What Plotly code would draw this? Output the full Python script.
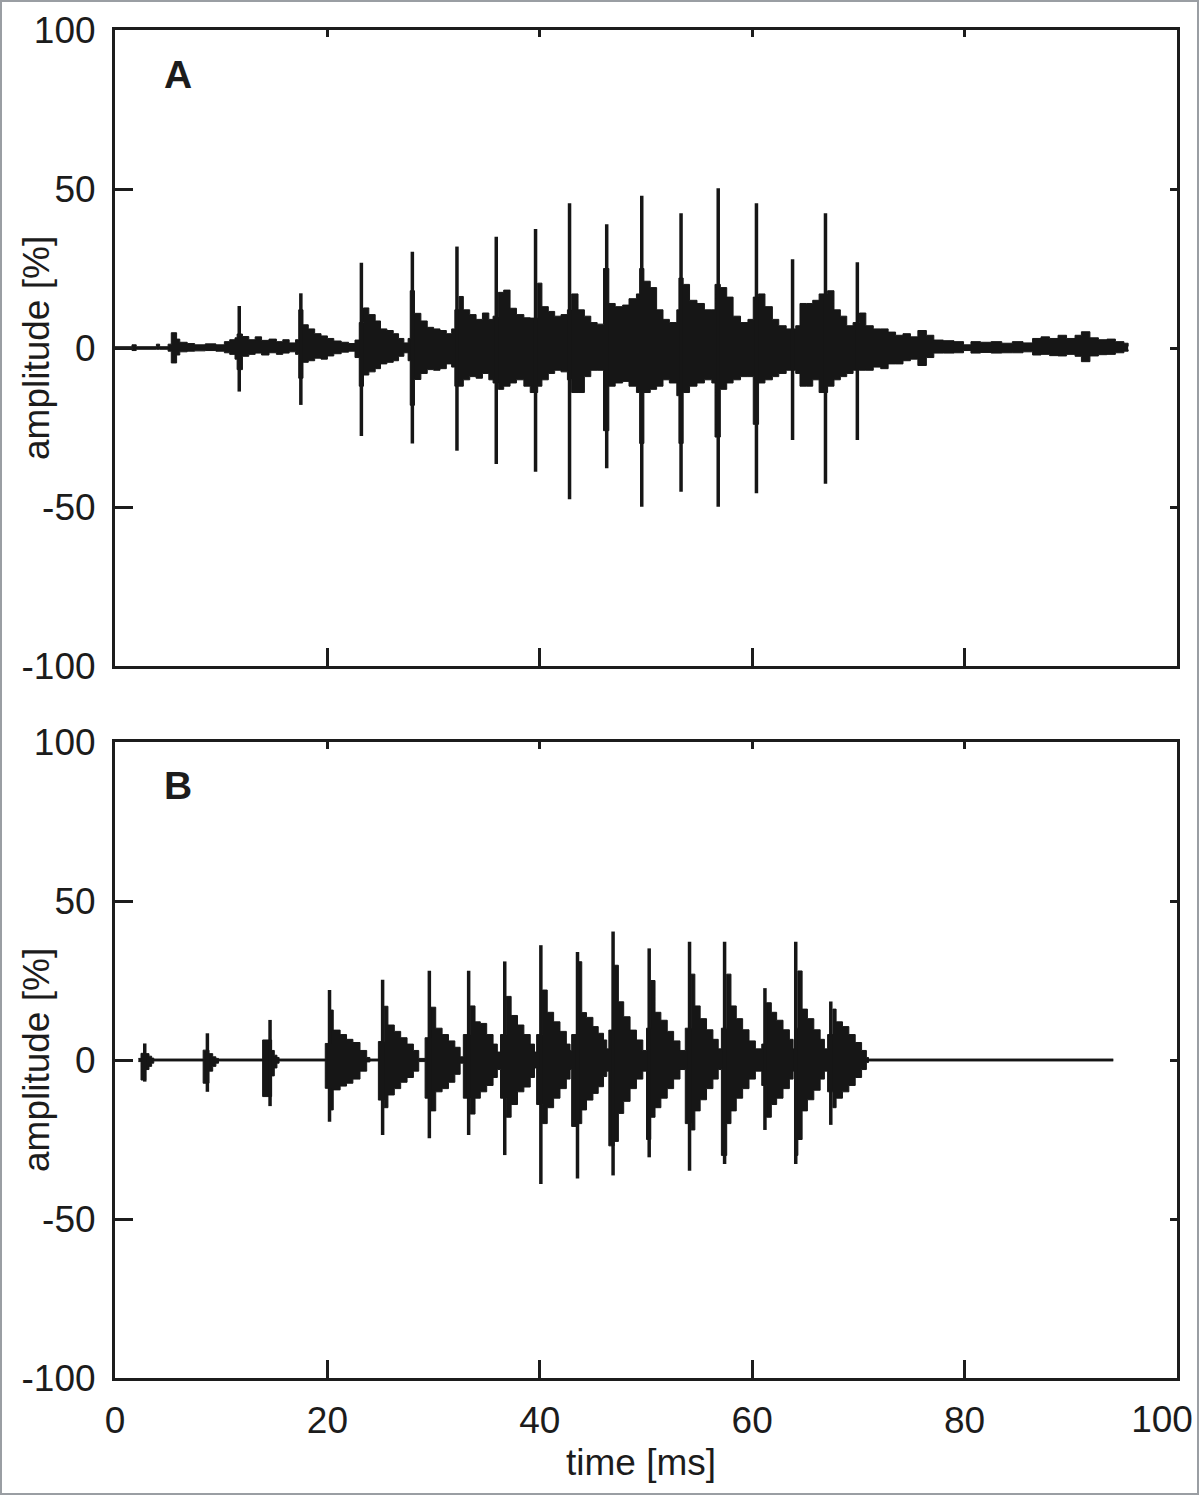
import plotly.graph_objects as go

# ---------------- data ----------------
X_TICKS = [0, 20, 40, 60, 80, 100]
X_TICK_TEXT = ["0", "20", "40", "60", "80", "100"]
Y_TICKS = [-100, -50, 0, 50, 100]
Y_TICK_TEXT = ["-100", "-50", "0", "50", "100"]

# Panel A: envelope of the recorded signal (step-held from each time)
A_env_t = [0.0, 1.6, 2.0, 3.9, 4.2, 5.0, 5.3, 5.8, 6.1, 6.8,
           7.5, 8.5, 9.5, 10.3, 10.8, 11.3, 11.5, 12.0, 12.6, 13.2,
           13.8, 14.5, 15.2, 15.8, 16.4, 17.0, 17.3, 17.7, 18.2, 18.8,
           19.4, 20.0, 20.6, 21.3, 22.0, 22.6, 23.0, 23.4, 23.9, 24.5,
           25.0, 25.6, 26.2, 26.7, 27.2, 27.6, 27.8, 28.2, 28.8, 29.4,
           30.0, 30.6, 31.2, 31.7, 32.0, 32.4, 32.8, 33.4, 34.0, 34.6,
           35.2, 35.6, 36.1, 36.6, 37.2, 37.8, 38.5, 39.1, 39.8, 40.2,
           40.8, 41.4, 42.0, 42.6, 43.0, 43.6, 44.2, 44.8, 45.4, 46.0,
           46.5, 47.1, 47.8, 48.4, 49.1, 49.4, 49.8, 50.4, 51.0, 51.6,
           52.2, 52.9, 53.1, 53.5, 54.1, 54.8, 55.5, 56.2, 56.5, 57.0,
           57.6, 58.2, 58.9, 59.6, 60.1, 60.6, 61.2, 61.9, 62.5, 63.2,
           64.1, 64.5, 65.1, 65.7, 66.3, 67.1, 67.7, 68.3, 68.9, 69.5,
           70.1, 70.7, 71.4, 72.1, 72.8, 73.5, 74.2, 74.9, 75.6, 76.4,
           77.1, 78.0, 79.0, 79.9, 80.6, 81.5, 82.5, 83.5, 84.5, 85.5,
           86.4, 87.2, 88.0, 88.8, 89.6, 90.4, 91.0, 91.8, 92.6, 93.4,
           94.2, 95.0, 95.4]
A_env_hi = [0.4, 1.0, 0.4, 1.2, 0.4, 1.2, 4.8, 2.8, 1.8, 1.4,
            1.0, 1.3, 1.0, 2.0, 2.6, 3.2, 4.4, 3.6, 2.6, 3.5,
            2.4, 2.8, 2.0, 2.6, 1.6, 2.6, 12.0, 7.3, 6.0, 4.5,
            3.8, 3.0, 2.2, 1.8, 1.4, 2.5, 8.0, 12.6, 10.5, 8.5,
            6.0, 5.5, 4.5, 3.0, 1.6, 3.0, 18.0, 10.9, 8.5, 6.5,
            6.0, 5.5, 4.5, 6.0, 12.0, 16.2, 12.0, 10.5, 9.0, 11.0,
            9.0, 10.0, 17.5, 18.2, 12.5, 10.5, 9.5, 9.4, 20.4, 13.0,
            11.5, 10.0, 10.5, 12.0, 17.0, 12.0, 10.0, 8.0, 7.5, 25.0,
            14.0, 13.0, 13.5, 15.5, 17.0, 25.0, 21.0, 19.0, 12.0, 9.0,
            8.0, 12.0, 22.0, 20.0, 15.0, 14.0, 12.0, 12.0, 20.0, 19.0,
            16.0, 10.0, 8.0, 9.0, 16.0, 17.0, 13.0, 9.0, 7.0, 6.0,
            7.0, 14.0, 14.0, 15.0, 17.0, 18.0, 12.0, 10.0, 7.0, 8.0,
            11.0, 7.0, 6.0, 6.0, 5.0, 4.0, 4.5, 3.5, 5.5, 4.0,
            2.5, 2.3, 2.0, 1.0, 2.0, 1.8, 2.0, 1.5, 2.0, 1.6,
            3.0, 3.5, 3.0, 4.0, 3.0, 4.0, 5.1, 3.2, 2.6, 2.8,
            2.0, 1.5, 0.5]
A_env_lo = [-0.4, -0.8, -0.4, -0.4, -0.4, -1.0, -4.7, -2.2, -1.2, -1.0,
            -0.9, -0.8, -1.0, -1.5, -2.0, -3.5, -6.8, -2.6, -2.0, -1.6,
            -2.2, -1.5, -2.0, -1.6, -1.2, -2.0, -9.5, -4.5, -4.0, -3.2,
            -3.5, -2.5, -1.8, -1.3, -1.0, -3.0, -12.0, -8.5, -7.5, -6.5,
            -5.0, -4.5, -4.0, -2.6, -1.5, -4.0, -18.0, -9.9, -8.0, -6.8,
            -7.0, -6.5, -5.0, -6.0, -12.0, -12.0, -10.0, -9.0, -9.5, -8.0,
            -10.0, -11.0, -13.0, -12.0, -11.0, -10.0, -12.0, -14.0, -12.0, -10.0,
            -8.0, -7.0, -7.5, -10.0, -14.0, -14.0, -9.0, -7.0, -7.0, -26.0,
            -12.0, -11.0, -10.5, -12.0, -14.0, -30.0, -14.0, -13.0, -12.0, -10.0,
            -11.0, -15.0, -30.0, -14.0, -12.0, -11.0, -10.0, -11.0, -28.0, -13.0,
            -11.0, -10.0, -9.0, -9.0, -24.0, -11.0, -10.0, -9.0, -8.0, -7.0,
            -8.0, -12.0, -12.0, -10.0, -14.0, -12.0, -10.0, -9.0, -8.0, -7.0,
            -7.0, -7.0, -6.0, -6.5, -5.0, -5.0, -4.0, -3.5, -5.5, -3.0,
            -1.6, -1.6, -1.5, -0.8, -1.6, -1.4, -1.6, -1.5, -1.5, -1.2,
            -2.2, -2.0, -2.4, -2.5, -2.0, -2.6, -4.3, -2.5, -2.1, -2.0,
            -1.5, -1.0, -0.5]

# Panel A: individual pulse spikes
A_spk_t = [11.7, 17.5, 23.2, 28.0, 32.2, 35.9, 39.6, 42.8, 46.3, 49.6,
           53.3, 56.8, 60.4, 63.8, 66.9, 69.9]
A_spk_hi = [13.2, 17.2, 26.8, 30.3, 31.9, 35.0, 37.4, 45.5, 38.9, 47.9,
            42.4, 50.2, 45.5, 27.9, 42.4, 27.0]
A_spk_lo = [-13.7, -17.9, -27.7, -30.0, -32.3, -36.5, -38.9, -47.6, -37.8, -49.9,
            -45.2, -49.9, -45.7, -28.9, -42.7, -28.9]

# Panel B: envelope of the synthesized signal
B_env_t = [2.2, 2.45, 2.9, 3.2, 3.45, 3.65, 8.3, 8.85, 9.2, 9.5,
           9.75, 13.9, 14.75, 15.0, 15.25, 15.45, 19.8, 20.3, 20.55, 21.2,
           21.8, 22.4, 23.07, 23.7, 24.0, 24.8, 25.35, 25.7, 26.3, 26.9,
           27.5, 28.1, 28.6, 29.2, 29.75, 30.2, 30.8, 31.4, 32.0, 32.5,
           32.8, 33.45, 33.9, 34.4, 35.0, 35.6, 36.0, 36.3, 36.85, 37.3,
           37.9, 38.5, 39.1, 39.5, 39.7, 40.25, 40.7, 41.3, 41.9, 42.5,
           42.85, 43.0, 43.65, 43.95, 44.4, 45.0, 45.5, 46.0, 46.3, 46.5,
           47.0, 47.4, 47.9, 48.5, 49.1, 49.7, 50.05, 50.45, 50.85, 51.4,
           52.0, 52.6, 53.2, 53.7, 54.25, 54.6, 55.1, 55.7, 56.3, 56.8,
           57.1, 57.6, 58.0, 58.5, 59.1, 59.7, 60.3, 60.9, 61.35, 61.8,
           62.3, 62.9, 63.5, 63.85, 64.0, 64.3, 64.7, 65.2, 65.8, 66.4,
           66.8, 67.1, 67.6, 67.9, 68.5, 69.1, 69.7, 70.3, 70.75, 70.95,
           94.0]
B_env_hi = [0.5, 2.1, 2.0, 1.2, 0.6, 0.3, 3.1, 2.0, 1.0, 0.5,
            0.3, 6.3, 3.0, 1.5, 0.8, 0.3, 5.2, 15.7, 9.4, 8.0,
            6.5, 5.5, 3.0, 0.8, 0.3, 5.8, 16.9, 11.0, 9.0, 7.0,
            5.0, 3.0, 0.5, 7.0, 16.6, 10.0, 8.0, 6.0, 4.0, 1.0,
            8.0, 17.0, 12.0, 11.5, 8.0, 5.0, 2.5, 8.0, 20.0, 14.0,
            11.0, 8.0, 5.0, 2.5, 8.0, 22.0, 15.0, 12.0, 9.0, 5.0,
            3.0, 8.0, 30.9, 14.9, 13.4, 10.5, 8.4, 6.3, 3.5, 9.4,
            29.8, 18.3, 13.6, 9.4, 6.3, 3.0, 10.0, 25.0, 15.0, 12.5,
            9.0, 6.0, 3.0, 10.0, 27.0, 17.0, 13.0, 9.5, 6.5, 3.5,
            10.0, 27.0, 17.0, 13.0, 9.5, 6.0, 3.5, 5.0, 18.0, 15.0,
            12.5, 9.5, 6.5, 3.5, 10.0, 28.0, 16.0, 13.0, 9.5, 6.5,
            3.5, 8.0, 16.0, 12.0, 10.5, 8.0, 5.5, 3.0, 0.8, 0.3,
            0.3]
B_env_lo = [-0.5, -6.3, -3.0, -2.0, -1.0, -0.3, -7.3, -3.5, -2.0, -1.0,
            -0.3, -11.5, -5.0, -2.5, -1.0, -0.3, -8.9, -15.7, -9.4, -8.2,
            -7.3, -6.0, -3.5, -0.6, -0.3, -12.6, -15.0, -11.0, -9.0, -7.0,
            -5.5, -3.5, -0.5, -12.0, -16.0, -10.0, -9.0, -7.0, -4.5, -1.0,
            -12.0, -17.0, -12.0, -10.0, -8.0, -5.5, -3.0, -12.0, -18.0, -14.0,
            -10.0, -8.5, -5.5, -2.5, -14.0, -20.0, -15.0, -12.0, -9.0, -6.0,
            -3.0, -20.9, -20.0, -15.7, -12.6, -10.5, -8.4, -5.2, -3.5, -27.0,
            -25.6, -16.8, -13.0, -9.0, -6.0, -3.5, -25.0, -18.0, -15.0, -12.0,
            -9.0, -6.0, -3.0, -20.0, -22.0, -16.0, -12.5, -9.0, -6.0, -3.0,
            -30.0, -20.0, -16.0, -12.0, -9.0, -6.0, -3.5, -8.0, -18.0, -14.0,
            -12.0, -9.0, -6.0, -3.5, -30.0, -25.0, -16.0, -12.5, -9.5, -6.0,
            -3.5, -10.0, -15.0, -12.0, -10.0, -8.0, -5.5, -3.0, -0.8, -0.3,
            -0.3]

# Panel B: individual pulse spikes
B_spk_t = [2.8, 8.7, 14.6, 20.2, 25.2, 29.6, 33.3, 36.7, 40.1, 43.55,
           46.9, 50.3, 54.1, 57.4, 61.2, 64.1, 67.4]
B_spk_hi = [5.2, 8.4, 12.6, 22.0, 25.2, 28.1, 28.1, 31.0, 36.1, 34.0,
            40.4, 35.1, 37.2, 37.2, 22.6, 37.2, 18.4]
B_spk_lo = [-6.8, -10.0, -14.5, -19.4, -23.6, -24.6, -23.6, -29.9, -39.0, -37.3,
            -36.3, -30.6, -34.8, -32.7, -22.0, -32.7, -20.4]

PANEL_LABELS = ["A", "B"]
X_TITLE = "time [ms]"
Y_TITLE = "amplitude [%]"

# ---------------- styling ----------------
INK = "#161616"
AX = "#1c1c1c"
FONT_FAMILY = "Liberation Sans, Arial, Helvetica, sans-serif"
FS = 37

fig = go.Figure()


def add_panel(xa, ya, t, hi, lo, st, sh, sl):
    fig.add_trace(go.Scatter(x=t, y=lo, mode="lines",
                             line=dict(color=INK, width=1, shape="hv"),
                             xaxis=xa, yaxis=ya, showlegend=False, hoverinfo="skip"))
    fig.add_trace(go.Scatter(x=t, y=hi, mode="lines",
                             line=dict(color=INK, width=1, shape="hv"),
                             fill="tonexty", fillcolor=INK,
                             xaxis=xa, yaxis=ya, showlegend=False, hoverinfo="skip"))
    xs, ys = [], []
    for a, b, c in zip(st, sh, sl):
        xs += [a, a, None]
        ys += [c, b, None]
    fig.add_trace(go.Scatter(x=xs, y=ys, mode="lines",
                             line=dict(color=INK, width=3.5),
                             xaxis=xa, yaxis=ya, showlegend=False, hoverinfo="skip"))


add_panel("x", "y", A_env_t, A_env_hi, A_env_lo, A_spk_t, A_spk_hi, A_spk_lo)
add_panel("x2", "y2", B_env_t, B_env_hi, B_env_lo, B_spk_t, B_spk_hi, B_spk_lo)
# empty traces so the overlay axes (short mirrored ticks, last x label) are drawn
fig.add_trace(go.Scatter(x=[], y=[], xaxis="x3", yaxis="y3", showlegend=False))
fig.add_trace(go.Scatter(x=[], y=[], xaxis="x4", yaxis="y4", showlegend=False))
fig.add_trace(go.Scatter(x=[], y=[], xaxis="x5", yaxis="y2", showlegend=False))

W, H = 1200, 1496
L, R, T, B = 115, 23, 30, 118
PW, PH = W - L - R, H - T - B


def px_x(p):
    return (p - L) / PW


def px_y(p):
    return (H - B - p) / PH


tickfont = dict(family=FONT_FAMILY, size=FS, color=AX)
base_x = dict(range=[0, 100], tickvals=X_TICKS, ticktext=X_TICK_TEXT, ticks="inside",
              ticklen=18, tickwidth=3, tickcolor=AX, showline=True, linewidth=3,
              linecolor=AX, mirror=True, showgrid=False, zeroline=False,
              tickfont=tickfont, fixedrange=True, automargin=False)
base_y = dict(range=[-100, 100], tickvals=Y_TICKS, ticktext=Y_TICK_TEXT, ticks="inside",
              ticklen=18, tickwidth=3, tickcolor=AX, showline=True, linewidth=3,
              linecolor=AX, mirror=True, showgrid=False, zeroline=False,
              tickfont=tickfont, ticklabelstandoff=9, fixedrange=True, automargin=False)
over_x = dict(range=[0, 100], tickvals=X_TICKS, ticks="inside", ticklen=7, tickwidth=3,
              tickcolor=AX, showline=False, showgrid=False, zeroline=False,
              showticklabels=False, side="top", fixedrange=True, automargin=False)
over_y = dict(range=[-100, 100], tickvals=Y_TICKS, ticks="inside", ticklen=7, tickwidth=3,
              tickcolor=AX, showline=False, showgrid=False, zeroline=False,
              showticklabels=False, side="right", fixedrange=True, automargin=False)

domA = [px_y(666), 1.0]
domB = [0.0, px_y(742)]

# bottom axis of panel B shows every label except the last one, which sits on its
# own overlay axis shifted left so it stays inside the page (as in the reference)
b_text = X_TICK_TEXT[:-1] + [""]

fig.update_layout(
    width=W, height=H, autosize=False,
    margin=dict(l=L, r=R, t=T, b=B, autoexpand=False),
    paper_bgcolor="white", plot_bgcolor="white",
    font=dict(family=FONT_FAMILY, size=FS, color=AX),
    xaxis=dict(base_x, domain=[0, 1], anchor="y", showticklabels=False),
    yaxis=dict(base_y, domain=domA, anchor="x"),
    xaxis2=dict(base_x, domain=[0, 1], anchor="y2", showticklabels=True,
                ticktext=b_text, ticklabelstandoff=8, ticklabeloverflow="allow"),
    yaxis2=dict(base_y, domain=domB, anchor="x2"),
    xaxis3=dict(over_x, overlaying="x", anchor="y3"),
    yaxis3=dict(over_y, overlaying="y", anchor="x3"),
    xaxis4=dict(over_x, overlaying="x2", anchor="y4"),
    yaxis4=dict(over_y, overlaying="y2", anchor="x4"),
    xaxis5=dict(range=[0, 100], overlaying="x2", anchor="y2", side="bottom",
                tickvals=X_TICKS[-1:], ticktext=X_TICK_TEXT[-1:], ticks="",
                showline=False, showgrid=False, zeroline=False, tickfont=tickfont,
                ticklabelshift=-15, ticklabelstandoff=16, ticklabeloverflow="allow",
                fixedrange=True, automargin=False),
    showlegend=False,
)

ann = []
for lab, py in zip(PANEL_LABELS, [74, 786]):
    ann.append(dict(text="<b>%s</b>" % lab, x=px_x(178), y=px_y(py), xref="paper", yref="paper",
                    showarrow=False, xanchor="center", yanchor="middle",
                    font=dict(family=FONT_FAMILY, size=39, color=AX)))
for py in [348, 1060]:
    ann.append(dict(text=Y_TITLE, x=px_x(36), y=px_y(py), xref="paper", yref="paper",
                    showarrow=False, textangle=-90, xanchor="center", yanchor="middle",
                    font=dict(family=FONT_FAMILY, size=FS, color=AX)))
ann.append(dict(text=X_TITLE, x=px_x(641), y=px_y(1462), xref="paper", yref="paper",
                showarrow=False, xanchor="center", yanchor="middle",
                font=dict(family=FONT_FAMILY, size=FS, color=AX)))
fig.update_layout(annotations=ann)

fig.add_shape(type="rect", xref="paper", yref="paper",
              x0=px_x(1), x1=px_x(1198), y0=px_y(1494), y1=px_y(1),
              line=dict(color="#9a9ea3", width=2), fillcolor="rgba(0,0,0,0)", layer="below")

fig.write_html("out.html",
               config={"displayModeBar": False, "responsive": False},
               post_script="document.body.style.margin='0';document.body.style.overflow='hidden';")
